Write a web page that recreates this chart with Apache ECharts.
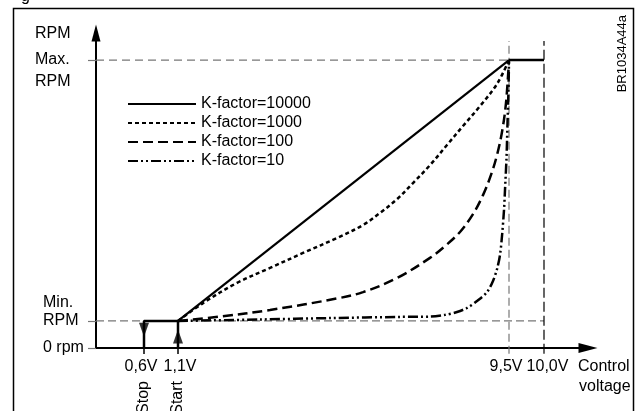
<!DOCTYPE html>
<html>
<head>
<meta charset="utf-8">
<script src="https://cdn.jsdelivr.net/npm/echarts@6/dist/echarts.min.js"></script>
<style>
html, body { margin: 0; padding: 0; background: #fff; }
#main { width: 639px; height: 411px; }
</style>
</head>
<body>
<div id="main"></div>
<script>
// schematic chart: x = position along the voltage axis (not to scale), y = % of max RPM
var minRpm = 9.4;
var maxRpm = 100;
var xTickPos = [48, 82, 413, 448];
var xTickLabels = ['0,6V', '1,1V', '9,5V', '10,0V'];
var xStatePos = [48, 82];
var xStateLabels = ['Stop', 'Start'];
var yTickPos = [0, minRpm, maxRpm];
var seriesNames = ['K-factor=10000', 'K-factor=1000', 'K-factor=100', 'K-factor=10'];

// curves
var k10000 = [[82, 9.4], [413, 100]];
var k1000 = [[82, 9.4], [107, 15.6], [141, 22.6], [174, 27.8], [207, 33.0], [241, 38.2], [267, 42.7],
    [284, 46.9], [301, 51.7], [317, 57.3], [334, 63.5], [351, 70.5], [367, 77.1], [384, 84.0],
    [401, 91.7], [413, 100]];
var k100 = [[82, 9.4], [124, 10.9], [174, 13.2], [241, 17.2], [267, 19.4], [301, 24.3], [334, 31.3],
    [349, 35.4], [364, 40.3], [377, 46.5], [387, 53.1], [395, 60.1], [401, 67.0], [406, 75.0],
    [410, 85.1], [413, 100]];
var k10 = [[82, 9.4], [164, 9.9], [234, 10.4], [304, 10.8], [334, 10.9], [349, 11.5], [361, 12.5],
    [371, 13.9], [381, 16.3], [391, 19.4], [397, 23.3], [401, 27.4], [404, 32.3], [406, 38.9],
    [408, 47.9], [409, 54.9], [410.5, 66], [411.5, 78], [412.5, 90], [413, 100]];

// start/stop step and the flat part at max
var stepLine = [[48, 0], [48, minRpm], [82, minRpm], [82, 0]];
var maxFlat = [[413, maxRpm], [448, maxRpm]];
var guideTop = 106.6;
var guideBottom = -2;

var font = '"Liberation Sans", Arial, sans-serif';

var chart = echarts.init(document.getElementById('main'));

var option = {
    animation: false,
    grid: {
        left: 96,
        top: 33,
        width: 492,
        height: 315,
        outerBoundsMode: 'none'
    },
    legend: {
        data: seriesNames,
        orient: 'vertical',
        left: 127,
        top: 96,
        padding: 0,
        itemWidth: 68,
        itemHeight: 14,
        itemGap: 3,
        selectedMode: false,
        itemStyle: { opacity: 0 },
        textStyle: {
            fontSize: 16,
            color: '#000',
            fontFamily: font
        }
    },
    xAxis: {
        type: 'value',
        min: 0,
        max: 492,
        axisLine: {
            show: true,
            symbol: ['none', 'triangle'],
            symbolSize: [10, 19],
            lineStyle: { color: '#000', width: 2 }
        },
        axisTick: {
            show: true,
            customValues: xTickPos.slice(0, 2),
            length: 6,
            lineStyle: { color: '#000', width: 1.5 }
        },
        axisLabel: { show: false },
        splitLine: { show: false }
    },
    yAxis: {
        type: 'value',
        min: 0,
        max: 109.4,
        axisLine: {
            show: true,
            symbol: ['none', 'triangle'],
            symbolSize: [9, 17],
            lineStyle: { color: '#000', width: 2 }
        },
        axisTick: {
            show: true,
            customValues: yTickPos,
            length: 8,
            lineStyle: { color: '#777', width: 1.2 }
        },
        axisLabel: { show: false },
        splitLine: { show: false }
    },
    series: [
        // guide lines
        {
            type: 'line', silent: true, symbol: 'none', clip: false,
            data: [[0, maxRpm], [xTickPos[2], maxRpm]],
            lineStyle: { color: '#777', width: 1.2, type: [8, 5] }
        },
        {
            type: 'line', silent: true, symbol: 'none', clip: false,
            data: [[0, minRpm], [xTickPos[3], minRpm]],
            lineStyle: { color: '#777', width: 1.2, type: [8, 4] }
        },
        {
            type: 'line', silent: true, symbol: 'none', clip: false,
            data: [[xTickPos[2], guideBottom], [xTickPos[2], guideTop]],
            lineStyle: { color: '#777', width: 1.2, type: [8, 4] }
        },
        {
            type: 'line', silent: true, symbol: 'none', clip: false,
            data: [[xTickPos[3], guideBottom], [xTickPos[3], guideTop]],
            lineStyle: { color: '#000', width: 1.2, type: [10, 4] }
        },
        {
            type: 'line', silent: true, symbol: 'none', clip: false, z: 4,
            data: stepLine,
            lineStyle: { color: '#000', width: 2.5 }
        },
        {
            type: 'line', silent: true, symbol: 'none', clip: false, z: 4,
            data: maxFlat,
            lineStyle: { color: '#000', width: 2.5 }
        },
        {
            type: 'scatter', silent: true, symbol: 'triangle', symbolSize: [10, 14], symbolRotate: 180, z: 5,
            data: [[xStatePos[0], 6.3]],
            itemStyle: { color: '#000' }
        },
        {
            type: 'scatter', silent: true, symbol: 'triangle', symbolSize: [10, 14], z: 5,
            data: [[xStatePos[1], 4.0]],
            itemStyle: { color: '#000' }
        },
        // K-factor curves
        {
            name: seriesNames[0], type: 'line', symbol: 'none', color: '#000', z: 5,
            data: k10000,
            lineStyle: { color: '#000', width: 2.2, type: 'solid' }
        },
        {
            name: seriesNames[1], type: 'line', symbol: 'none', color: '#000', z: 5,
            smooth: 0.35,
            data: k1000,
            lineStyle: { color: '#000', width: 2.5, type: [4, 3] }
        },
        {
            name: seriesNames[2], type: 'line', symbol: 'none', color: '#000', z: 5,
            smooth: 0.35,
            data: k100,
            lineStyle: { color: '#000', width: 2.5, type: [10, 5] }
        },
        {
            name: seriesNames[3], type: 'line', symbol: 'none', color: '#000', z: 5,
            smooth: 0.3,
            data: k10,
            lineStyle: { color: '#000', width: 2.5, type: [10, 3, 2, 3, 2, 3] }
        }
    ]
};

chart.setOption(option);

// texts placed from the axis scale
function py(v) {
    return chart.convertToPixel({ gridIndex: 0 }, [0, v])[1];
}
function pxX(v) {
    return chart.convertToPixel({ gridIndex: 0 }, [v, 0])[0];
}
function txt(text, x, y, align, va) {
    return {
        type: 'text',
        x: x,
        y: y,
        silent: true,
        style: {
            text: text,
            fontSize: 16,
            fontFamily: font,
            fill: '#000',
            align: align || 'left',
            verticalAlign: va || 'middle'
        }
    };
}

var y0 = py(0), yMin = py(minRpm), yMax = py(maxRpm);
var graphics = [
    {
        type: 'rect', silent: true,
        shape: { x: 13.5, y: 8.5, width: 620, height: 420 },
        style: { fill: null, stroke: '#000', lineWidth: 1.5 }
    },
    txt('RPM', 35, yMax - 26.5),
    txt('Max.', 35, yMax - 0.5),
    txt('RPM', 35, yMax + 21.5),
    txt('Min.', 43, yMin - 18.5),
    txt('RPM', 43, yMin - 0.5),
    txt('0 rpm', 43, y0),
    txt('Control', 578, 367),
    txt('voltage', 579, 387),
    txt('g', 21, 5, 'left', 'bottom'),
    {
        type: 'text', silent: true, x: 622, y: 15, rotation: Math.PI / 2,
        style: { text: 'BR1034A44a', fontSize: 13, fontFamily: font, fill: '#000', align: 'right', verticalAlign: 'middle' }
    }
];
// tick labels, nudged apart where they crowd each other
var labelShift = [-3, 2, -3, 3.5];
for (var j = 0; j < xTickLabels.length; j++) {
    graphics.push(txt(xTickLabels[j], pxX(xTickPos[j]) + labelShift[j], 367, 'center'));
}
for (var i = 0; i < xStateLabels.length; i++) {
    graphics.push({
        type: 'text', silent: true, x: pxX(xStatePos[i]), y: 381, rotation: Math.PI / 2,
        style: { text: xStateLabels[i], fontSize: 16, fontFamily: font, fill: '#000', align: 'right', verticalAlign: 'middle' }
    });
}
chart.setOption({ graphic: graphics });
</script>
</body>
</html>
